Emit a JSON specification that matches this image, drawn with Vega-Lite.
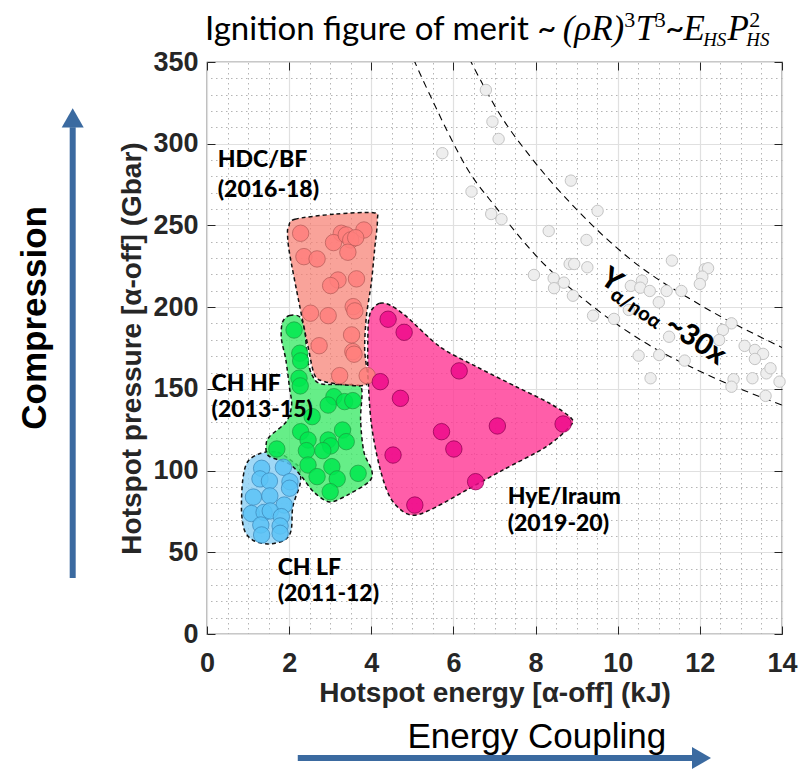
{
  "$schema": "https://vega.github.io/schema/vega-lite/v6.json",
  "width": 575,
  "height": 572,
  "autosize": {"type": "none"},
  "padding": {"left": 207, "top": 62, "right": 29, "bottom": 136},
  "background": "white",
  "config": {
    "view": {"stroke": "#262626", "strokeWidth": 1.2},
    "text": {"font": "Lato"}
  },
  "datasets": {
    "regions": [
      {"g": "LF", "i": 0, "E": 1.31, "P": 110.6}, {"g": "LF", "i": 1, "E": 1.72, "P": 111.2},
      {"g": "LF", "i": 2, "E": 2.09, "P": 105.4}, {"g": "LF", "i": 3, "E": 2.25, "P": 101.4},
      {"g": "LF", "i": 4, "E": 2.27, "P": 92.2}, {"g": "LF", "i": 5, "E": 2.09, "P": 77.9},
      {"g": "LF", "i": 6, "E": 2.05, "P": 63.6}, {"g": "LF", "i": 7, "E": 1.89, "P": 57.5},
      {"g": "LF", "i": 8, "E": 1.48, "P": 55.1}, {"g": "LF", "i": 9, "E": 1.11, "P": 57.5},
      {"g": "LF", "i": 10, "E": 0.91, "P": 63.6}, {"g": "LF", "i": 11, "E": 0.84, "P": 75.9},
      {"g": "LF", "i": 12, "E": 0.87, "P": 94.2}, {"g": "LF", "i": 13, "E": 0.99, "P": 105.4},

      {"g": "HF", "i": 0, "E": 1.84, "P": 190.9}, {"g": "HF", "i": 1, "E": 2.01, "P": 194.9},
      {"g": "HF", "i": 2, "E": 2.26, "P": 194.0}, {"g": "HF", "i": 3, "E": 2.38, "P": 186.0},
      {"g": "HF", "i": 4, "E": 2.45, "P": 167.7}, {"g": "HF", "i": 5, "E": 2.57, "P": 157.9},
      {"g": "HF", "i": 6, "E": 2.79, "P": 153.0}, {"g": "HF", "i": 7, "E": 3.6, "P": 152.4},
      {"g": "HF", "i": 8, "E": 3.77, "P": 149.3}, {"g": "HF", "i": 9, "E": 3.74, "P": 131.0},
      {"g": "HF", "i": 10, "E": 3.82, "P": 111.4}, {"g": "HF", "i": 11, "E": 4.01, "P": 100.4},
      {"g": "HF", "i": 12, "E": 3.96, "P": 93.6}, {"g": "HF", "i": 13, "E": 3.47, "P": 85.7},
      {"g": "HF", "i": 14, "E": 2.99, "P": 80.8}, {"g": "HF", "i": 15, "E": 2.6, "P": 86.9},
      {"g": "HF", "i": 16, "E": 2.31, "P": 96.1}, {"g": "HF", "i": 17, "E": 2.01, "P": 104.0},
      {"g": "HF", "i": 18, "E": 1.5, "P": 109.0}, {"g": "HF", "i": 19, "E": 1.44, "P": 116.0},
      {"g": "HF", "i": 20, "E": 1.53, "P": 121.0}, {"g": "HF", "i": 21, "E": 1.93, "P": 129.9},
      {"g": "HF", "i": 22, "E": 2.06, "P": 140.1}, {"g": "HF", "i": 23, "E": 2.01, "P": 150.4},
      {"g": "HF", "i": 24, "E": 1.92, "P": 167.7}, {"g": "HF", "i": 25, "E": 1.81, "P": 181.0},

      {"g": "BF", "i": 0, "E": 1.99, "P": 249.3}, {"g": "BF", "i": 1, "E": 2.14, "P": 253.8},
      {"g": "BF", "i": 2, "E": 3.11, "P": 256.9}, {"g": "BF", "i": 3, "E": 4.05, "P": 257.8},
      {"g": "BF", "i": 4, "E": 4.15, "P": 253.4}, {"g": "BF", "i": 5, "E": 4.08, "P": 235.0},
      {"g": "BF", "i": 6, "E": 4.0, "P": 214.6}, {"g": "BF", "i": 7, "E": 3.88, "P": 194.2},
      {"g": "BF", "i": 8, "E": 3.84, "P": 173.8}, {"g": "BF", "i": 9, "E": 3.92, "P": 155.4},
      {"g": "BF", "i": 10, "E": 3.8, "P": 152.0}, {"g": "BF", "i": 11, "E": 3.35, "P": 152.4},
      {"g": "BF", "i": 12, "E": 2.87, "P": 154.4}, {"g": "BF", "i": 13, "E": 2.62, "P": 158.5},
      {"g": "BF", "i": 14, "E": 2.46, "P": 175.8}, {"g": "BF", "i": 15, "E": 2.26, "P": 200.3},
      {"g": "BF", "i": 16, "E": 2.01, "P": 232.9}, {"g": "BF", "i": 17, "E": 1.96, "P": 245.2},

      {"g": "HyE", "i": 0, "E": 4.04, "P": 199.3}, {"g": "HyE", "i": 1, "E": 4.21, "P": 202.4},
      {"g": "HyE", "i": 2, "E": 4.45, "P": 201.3}, {"g": "HyE", "i": 3, "E": 4.86, "P": 194.2},
      {"g": "HyE", "i": 4, "E": 5.67, "P": 175.8}, {"g": "HyE", "i": 5, "E": 6.56, "P": 163.6},
      {"g": "HyE", "i": 6, "E": 7.53, "P": 151.3}, {"g": "HyE", "i": 7, "E": 8.34, "P": 141.2},
      {"g": "HyE", "i": 8, "E": 8.87, "P": 132.0}, {"g": "HyE", "i": 9, "E": 8.83, "P": 126.9},
      {"g": "HyE", "i": 10, "E": 8.26, "P": 114.6}, {"g": "HyE", "i": 11, "E": 7.21, "P": 100.4},
      {"g": "HyE", "i": 12, "E": 6.32, "P": 88.1}, {"g": "HyE", "i": 13, "E": 5.59, "P": 77.9},
      {"g": "HyE", "i": 14, "E": 5.1, "P": 72.8}, {"g": "HyE", "i": 15, "E": 4.78, "P": 74.8},
      {"g": "HyE", "i": 16, "E": 4.45, "P": 84.0}, {"g": "HyE", "i": 17, "E": 4.2, "P": 102.4},
      {"g": "HyE", "i": 18, "E": 4.0, "P": 128.9}, {"g": "HyE", "i": 19, "E": 3.92, "P": 159.5},
      {"g": "HyE", "i": 20, "E": 3.92, "P": 186.0}, {"g": "HyE", "i": 21, "E": 3.96, "P": 195.2}
    ],
    "curves": [
      {"c": "upper", "E": 6.0, "P": 372}, {"c": "upper", "E": 6.43, "P": 350},
      {"c": "upper", "E": 7.13, "P": 318}, {"c": "upper", "E": 7.94, "P": 290},
      {"c": "upper", "E": 9.01, "P": 259.5}, {"c": "upper", "E": 10.3, "P": 229.5},
      {"c": "upper", "E": 12.0, "P": 201.5}, {"c": "upper", "E": 14.0, "P": 175.3},
      {"c": "lower", "E": 4.7, "P": 372}, {"c": "lower", "E": 5.06, "P": 350},
      {"c": "lower", "E": 5.5, "P": 326}, {"c": "lower", "E": 5.92, "P": 304.2},
      {"c": "lower", "E": 6.33, "P": 285}, {"c": "lower", "E": 7.06, "P": 260.3},
      {"c": "lower", "E": 8.04, "P": 230.7}, {"c": "lower", "E": 9.4, "P": 200.3},
      {"c": "lower", "E": 10.62, "P": 179}, {"c": "lower", "E": 12.08, "P": 159.8},
      {"c": "lower", "E": 14.0, "P": 140.1}
    ],
    "gray": [
      {"E": 6.79, "P": 332.9}, {"E": 6.95, "P": 313.5}, {"E": 7.1, "P": 302.9}, {"E": 5.73, "P": 294.2},
      {"E": 8.86, "P": 277.4}, {"E": 6.44, "P": 270.7}, {"E": 6.92, "P": 257.0}, {"E": 7.17, "P": 253.8},
      {"E": 9.51, "P": 258.9}, {"E": 8.32, "P": 246.6}, {"E": 9.24, "P": 241.1}, {"E": 8.83, "P": 226.4},
      {"E": 8.94, "P": 226.4}, {"E": 9.26, "P": 224.4}, {"E": 11.32, "P": 228.5}, {"E": 7.96, "P": 219.7},
      {"E": 8.44, "P": 217.7}, {"E": 8.69, "P": 215.0}, {"E": 8.45, "P": 211.6}, {"E": 8.91, "P": 207.0},
      {"E": 10.32, "P": 213.0}, {"E": 10.59, "P": 216.2}, {"E": 10.55, "P": 211.9}, {"E": 10.78, "P": 209.9},
      {"E": 11.19, "P": 209.9}, {"E": 11.55, "P": 209.9}, {"E": 11.0, "P": 203.0}, {"E": 10.27, "P": 198.3},
      {"E": 9.4, "P": 194.8}, {"E": 9.91, "P": 192.8}, {"E": 12.12, "P": 223.2}, {"E": 12.2, "P": 223.8},
      {"E": 12.06, "P": 218.7}, {"E": 12.0, "P": 214.2}, {"E": 11.25, "P": 181.9}, {"E": 12.77, "P": 190.1},
      {"E": 12.56, "P": 186.0}, {"E": 12.47, "P": 179.9}, {"E": 10.51, "P": 170.3}, {"E": 11.01, "P": 170.7},
      {"E": 11.63, "P": 167.3}, {"E": 13.09, "P": 176.3}, {"E": 13.34, "P": 173.8}, {"E": 13.54, "P": 171.4},
      {"E": 13.34, "P": 168.3}, {"E": 13.62, "P": 159.5}, {"E": 13.72, "P": 162.6}, {"E": 13.94, "P": 154.4},
      {"E": 13.28, "P": 156.5}, {"E": 12.82, "P": 155.9}, {"E": 12.77, "P": 151.3}, {"E": 10.8, "P": 156.5},
      {"E": 13.6, "P": 145.7}
    ],
    "shots": [
      {"g": "LF", "E": 1.33, "P": 101.4}, {"g": "LF", "E": 1.86, "P": 102.0}, {"g": "LF", "E": 1.29, "P": 94.9},
      {"g": "LF", "E": 1.52, "P": 93.6}, {"g": "LF", "E": 2.02, "P": 93.2}, {"g": "LF", "E": 2.01, "P": 89.2},
      {"g": "LF", "E": 1.13, "P": 83.8}, {"g": "LF", "E": 1.53, "P": 84.5}, {"g": "LF", "E": 1.88, "P": 78.9},
      {"g": "LF", "E": 1.08, "P": 73.7}, {"g": "LF", "E": 1.39, "P": 74.4}, {"g": "LF", "E": 1.54, "P": 75.3},
      {"g": "LF", "E": 1.81, "P": 71.8}, {"g": "LF", "E": 1.31, "P": 66.7}, {"g": "LF", "E": 1.78, "P": 66.1},
      {"g": "LF", "E": 1.78, "P": 61.6}, {"g": "LF", "E": 1.33, "P": 60.6},

      {"g": "HF", "E": 2.12, "P": 186.0}, {"g": "HF", "E": 2.26, "P": 171.8}, {"g": "HF", "E": 2.28, "P": 167.1},
      {"g": "HF", "E": 2.24, "P": 156.5}, {"g": "HF", "E": 2.27, "P": 151.8}, {"g": "HF", "E": 3.09, "P": 145.2},
      {"g": "HF", "E": 3.35, "P": 142.2}, {"g": "HF", "E": 3.55, "P": 142.8}, {"g": "HF", "E": 2.95, "P": 140.1},
      {"g": "HF", "E": 2.56, "P": 133.0}, {"g": "HF", "E": 2.28, "P": 123.8}, {"g": "HF", "E": 2.46, "P": 118.7},
      {"g": "HF", "E": 3.3, "P": 124.8}, {"g": "HF", "E": 3.39, "P": 117.7}, {"g": "HF", "E": 2.95, "P": 118.7},
      {"g": "HF", "E": 3.01, "P": 115.1}, {"g": "HF", "E": 2.82, "P": 112.2}, {"g": "HF", "E": 2.42, "P": 112.2},
      {"g": "HF", "E": 1.7, "P": 113.2}, {"g": "HF", "E": 3.04, "P": 102.4}, {"g": "HF", "E": 2.46, "P": 103.4},
      {"g": "HF", "E": 2.68, "P": 96.3}, {"g": "HF", "E": 3.17, "P": 94.9}, {"g": "HF", "E": 3.68, "P": 98.3},
      {"g": "HF", "E": 3.0, "P": 87.1},

      {"g": "BF", "E": 2.28, "P": 245.2}, {"g": "BF", "E": 3.27, "P": 245.2}, {"g": "BF", "E": 3.82, "P": 247.2},
      {"g": "BF", "E": 3.08, "P": 239.5}, {"g": "BF", "E": 3.39, "P": 244.2}, {"g": "BF", "E": 3.5, "P": 241.1},
      {"g": "BF", "E": 3.62, "P": 242.5}, {"g": "BF", "E": 3.43, "P": 233.6}, {"g": "BF", "E": 2.36, "P": 230.9},
      {"g": "BF", "E": 2.68, "P": 229.5}, {"g": "BF", "E": 3.19, "P": 216.6}, {"g": "BF", "E": 3.01, "P": 213.2},
      {"g": "BF", "E": 3.64, "P": 217.3}, {"g": "BF", "E": 2.52, "P": 196.3}, {"g": "BF", "E": 2.95, "P": 194.8},
      {"g": "BF", "E": 3.56, "P": 200.3}, {"g": "BF", "E": 3.6, "P": 197.7}, {"g": "BF", "E": 2.73, "P": 176.4},
      {"g": "BF", "E": 3.52, "P": 183.0}, {"g": "BF", "E": 3.55, "P": 172.8}, {"g": "BF", "E": 3.58, "P": 171.2},
      {"g": "BF", "E": 3.23, "P": 158.1}, {"g": "BF", "E": 3.9, "P": 158.1},

      {"g": "HyE", "E": 4.41, "P": 192.6}, {"g": "HyE", "E": 4.8, "P": 184.6}, {"g": "HyE", "E": 6.14, "P": 161.0},
      {"g": "HyE", "E": 4.22, "P": 154.4}, {"g": "HyE", "E": 4.71, "P": 144.2}, {"g": "HyE", "E": 5.71, "P": 123.8},
      {"g": "HyE", "E": 7.07, "P": 127.3}, {"g": "HyE", "E": 8.67, "P": 128.5}, {"g": "HyE", "E": 6.01, "P": 113.2},
      {"g": "HyE", "E": 4.53, "P": 109.5}, {"g": "HyE", "E": 6.54, "P": 93.2}, {"g": "HyE", "E": 5.06, "P": 78.9}
    ],
    "groupLabels": [
      {"t": "HDC/BF", "E": 0.26, "P": 290.1}, {"t": "(2016-18)", "E": 0.26, "P": 271.7},
      {"t": "CH HF", "E": 0.11, "P": 153.0}, {"t": "(2013-15)", "E": 0.11, "P": 137.1},
      {"t": "CH LF", "E": 1.72, "P": 40.4}, {"t": "(2011-12)", "E": 1.72, "P": 24.5},
      {"t": "HyE/Iraum", "E": 7.32, "P": 83.8}, {"t": "(2019-20)", "E": 7.32, "P": 67.3}
    ],
    "yieldBig": [
      {"t": "Y", "E": 9.85, "P": 216.6}, {"t": "~30x", "E": 11.9, "P": 180.0}
    ],
    "yieldSub": [
      {"t": "α/noα", "E": 10.44, "P": 199.0}
    ],
    "titleSans": [
      {"t": "Ignition figure of merit ~", "E": -0.05, "P": 363.5},
      {"t": "~", "E": 11.16, "P": 363.5}
    ],
    "titleMath": [
      {"t": "(ρR)", "E": 8.66, "P": 363.5}, {"t": "T", "E": 10.44, "P": 363.5},
      {"t": "E", "E": 11.6, "P": 363.5}, {"t": "P", "E": 12.67, "P": 363.5}
    ],
    "titleSup": [
      {"t": "3", "E": 10.16, "P": 371.5}, {"t": "3", "E": 10.9, "P": 371.5}, {"t": "2", "E": 13.2, "P": 371.5}
    ],
    "titleSub": [
      {"t": "HS", "E": 12.08, "P": 359.5}, {"t": "HS", "E": 13.13, "P": 359.5}
    ],
    "sideBold": [
      {"t": "Compression", "E": -4.2, "P": 193.4}
    ],
    "sidePlain": [
      {"t": "Energy Coupling", "E": 8.03, "P": -63.0}
    ],
    "arrowShafts": [
      {"E": -3.27, "E2": -3.27, "P": 34.3, "P2": 310},
      {"E": 2.21, "E2": 11.95, "P": -75.9, "P2": -75.9}
    ],
    "arrowHeads": [
      {"s": "up", "E": -3.27, "P": 315.8},
      {"s": "right", "E": 12.04, "P": -75.9}
    ]
  },
  "resolve": {"axis": {"x": "independent", "y": "independent"}},
  "layer": [
    {
      "data": {"name": "regions"},
      "transform": [{"filter": "datum.g === 'LF'"}],
      "mark": {"type": "line", "interpolate": "cardinal-closed", "tension": 0.1, "fill": "#88cef4", "fillOpacity": 0.8, "stroke": "#111111", "strokeWidth": 1.5, "strokeDash": [4, 3]},
      "encoding": {
        "x": {"field": "E", "type": "quantitative", "scale": {"domain": [0, 14], "nice": false, "zero": false},
          "axis": {"orient": "top", "values": [0, 0.5, 1, 1.5, 2, 2.5, 3, 3.5, 4, 4.5, 5, 5.5, 6, 6.5, 7, 7.5, 8, 8.5, 9, 9.5, 10, 10.5, 11, 11.5, 12, 12.5, 13, 13.5, 14],
            "grid": true, "gridDash": [1.5, 3.5], "gridColor": "#b5b5b5", "gridWidth": 1, "labels": false, "ticks": false, "domain": false, "title": null}},
        "y": {"field": "P", "type": "quantitative", "scale": {"domain": [0, 350], "nice": false, "zero": false},
          "axis": {"orient": "right", "values": [0, 10, 20, 30, 40, 50, 60, 70, 80, 90, 100, 110, 120, 130, 140, 150, 160, 170, 180, 190, 200, 210, 220, 230, 240, 250, 260, 270, 280, 290, 300, 310, 320, 330, 340, 350],
            "grid": true, "gridDash": [1.5, 3.5], "gridColor": "#b5b5b5", "gridWidth": 1, "labels": false, "ticks": false, "domain": false, "title": null}},
        "order": {"field": "i", "type": "quantitative"}
      }
    },
    {
      "data": {"name": "regions"},
      "transform": [{"filter": "datum.g === 'HF'"}],
      "mark": {"type": "line", "interpolate": "cardinal-closed", "tension": 0.1, "fill": "#40ea6a", "fillOpacity": 0.8, "stroke": "#111111", "strokeWidth": 1.5, "strokeDash": [4, 3]},
      "encoding": {
        "x": {"field": "E", "type": "quantitative", "scale": {"domain": [0, 14], "nice": false, "zero": false},
          "axis": {"orient": "bottom", "values": [0, 2, 4, 6, 8, 10, 12, 14], "grid": true, "gridColor": "#e0e0e0", "gridWidth": 1.2,
            "domain": false, "ticks": true, "tickSize": -8, "tickColor": "#262626", "tickWidth": 1,
            "labelPadding": 24, "labelFont": "Liberation Sans", "labelFontWeight": "bold", "labelFontSize": 27, "labelColor": "#262626",
            "labelFlush": false, "labelOverlap": false, "labelBound": false,
            "title": "Hotspot energy [α-off] (kJ)", "titleFont": "Liberation Sans", "titleFontWeight": "bold", "titleFontSize": 28, "titleColor": "#262626",
            "titleX": 287.5, "titleY": 59, "titleAlign": "center", "titleBaseline": "middle"}},
        "y": {"field": "P", "type": "quantitative", "scale": {"domain": [0, 350], "nice": false, "zero": false},
          "axis": {"orient": "left", "values": [0, 50, 100, 150, 200, 250, 300, 350], "grid": true, "gridColor": "#e0e0e0", "gridWidth": 1.2,
            "domain": false, "ticks": true, "tickSize": -8, "tickColor": "#262626", "tickWidth": 1,
            "labelPadding": 17, "labelFont": "Liberation Sans", "labelFontWeight": "bold", "labelFontSize": 27, "labelColor": "#262626",
            "labelFlush": false, "labelOverlap": false, "labelBound": false,
            "title": "Hotspot pressure [α-off] (Gbar)", "titleFont": "Liberation Sans", "titleFontWeight": "bold", "titleFontSize": 28, "titleColor": "#262626",
            "titleX": -75, "titleY": 286, "titleAngle": -90, "titleAlign": "center", "titleBaseline": "middle"}},
        "order": {"field": "i", "type": "quantitative"}
      }
    },
    {
      "data": {"name": "regions"},
      "transform": [{"filter": "datum.g === 'BF'"}],
      "mark": {"type": "line", "interpolate": "cardinal-closed", "tension": 0.1, "fill": "#f67c6f", "fillOpacity": 0.7, "stroke": "#111111", "strokeWidth": 1.5, "strokeDash": [4, 3]},
      "encoding": {
        "x": {"field": "E", "type": "quantitative", "scale": {"domain": [0, 14], "nice": false, "zero": false},
          "axis": {"orient": "top", "values": [0, 2, 4, 6, 8, 10, 12, 14], "grid": false, "labels": false, "domain": false,
            "ticks": true, "tickSize": -8, "tickColor": "#262626", "tickWidth": 1, "title": null}},
        "y": {"field": "P", "type": "quantitative", "scale": {"domain": [0, 350], "nice": false, "zero": false},
          "axis": {"orient": "right", "values": [0, 50, 100, 150, 200, 250, 300, 350], "grid": false, "labels": false, "domain": false,
            "ticks": true, "tickSize": -8, "tickColor": "#262626", "tickWidth": 1, "title": null}},
        "order": {"field": "i", "type": "quantitative"}
      }
    },
    {
      "data": {"name": "regions"},
      "transform": [{"filter": "datum.g === 'HyE'"}],
      "mark": {"type": "line", "interpolate": "cardinal-closed", "tension": 0.1, "fill": "#ff3694", "fillOpacity": 0.8, "stroke": "#111111", "strokeWidth": 1.5, "strokeDash": [4, 3]},
      "encoding": {
        "x": {"field": "E", "type": "quantitative", "scale": {"domain": [0, 14], "nice": false, "zero": false}, "axis": null},
        "y": {"field": "P", "type": "quantitative", "scale": {"domain": [0, 350], "nice": false, "zero": false}, "axis": null},
        "order": {"field": "i", "type": "quantitative"}
      }
    },
    {
      "data": {"name": "curves"},
      "mark": {"type": "line", "interpolate": "monotone", "stroke": "#000000", "strokeWidth": 1.1, "strokeDash": [7, 5], "clip": true},
      "encoding": {
        "x": {"field": "E", "type": "quantitative", "scale": {"domain": [0, 14], "nice": false, "zero": false}, "axis": null},
        "y": {"field": "P", "type": "quantitative", "scale": {"domain": [0, 350], "nice": false, "zero": false}, "axis": null},
        "detail": {"field": "c"}
      }
    },
    {
      "data": {"name": "gray"},
      "mark": {"type": "point", "shape": "circle", "filled": true, "fill": "#eeeeee", "stroke": "#c4c4c4", "strokeWidth": 1, "size": 130, "opacity": 1},
      "encoding": {
        "x": {"field": "E", "type": "quantitative", "scale": {"domain": [0, 14], "nice": false, "zero": false}, "axis": null},
        "y": {"field": "P", "type": "quantitative", "scale": {"domain": [0, 350], "nice": false, "zero": false}, "axis": null}
      }
    },
    {
      "data": {"name": "shots"},
      "mark": {"type": "point", "shape": "circle", "filled": true, "size": 270, "strokeWidth": 0.8, "fillOpacity": 0.85, "strokeOpacity": 0.9},
      "encoding": {
        "x": {"field": "E", "type": "quantitative", "scale": {"domain": [0, 14], "nice": false, "zero": false}, "axis": null},
        "y": {"field": "P", "type": "quantitative", "scale": {"domain": [0, 350], "nice": false, "zero": false}, "axis": null},
        "fill": {"field": "g", "type": "nominal", "legend": null,
          "scale": {"domain": ["LF", "HF", "BF", "HyE"], "range": ["#5cc3f6", "#00e84f", "#ff7f7c", "#ee0b8b"]}},
        "stroke": {"field": "g", "type": "nominal", "legend": null,
          "scale": {"domain": ["LF", "HF", "BF", "HyE"], "range": ["#3a86b8", "#1c9a40", "#b45a58", "#8c0050"]}}
      }
    },
    {
      "data": {"name": "groupLabels"},
      "mark": {"type": "text", "font": "Lato", "fontWeight": 900, "fontSize": 23, "align": "left", "baseline": "middle", "color": "#000000"},
      "encoding": {
        "x": {"field": "E", "type": "quantitative", "scale": {"domain": [0, 14], "nice": false, "zero": false}, "axis": null},
        "y": {"field": "P", "type": "quantitative", "scale": {"domain": [0, 350], "nice": false, "zero": false}, "axis": null},
        "text": {"field": "t"}
      }
    },
    {
      "data": {"name": "yieldBig"},
      "mark": {"type": "text", "font": "Lato", "fontWeight": 900, "fontSize": 29, "align": "center", "baseline": "middle", "angle": 34, "color": "#000000"},
      "encoding": {
        "x": {"field": "E", "type": "quantitative", "scale": {"domain": [0, 14], "nice": false, "zero": false}, "axis": null},
        "y": {"field": "P", "type": "quantitative", "scale": {"domain": [0, 350], "nice": false, "zero": false}, "axis": null},
        "text": {"field": "t"}
      }
    },
    {
      "data": {"name": "yieldSub"},
      "mark": {"type": "text", "font": "Lato", "fontWeight": 900, "fontSize": 20, "align": "center", "baseline": "middle", "angle": 34, "color": "#000000"},
      "encoding": {
        "x": {"field": "E", "type": "quantitative", "scale": {"domain": [0, 14], "nice": false, "zero": false}, "axis": null},
        "y": {"field": "P", "type": "quantitative", "scale": {"domain": [0, 350], "nice": false, "zero": false}, "axis": null},
        "text": {"field": "t"}
      }
    },
    {
      "data": {"name": "titleSans"},
      "mark": {"type": "text", "font": "Lato", "fontSize": 33, "align": "left", "baseline": "alphabetic", "color": "#000000"},
      "encoding": {
        "x": {"field": "E", "type": "quantitative", "scale": {"domain": [0, 14], "nice": false, "zero": false}, "axis": null},
        "y": {"field": "P", "type": "quantitative", "scale": {"domain": [0, 350], "nice": false, "zero": false}, "axis": null},
        "text": {"field": "t"}
      }
    },
    {
      "data": {"name": "titleMath"},
      "mark": {"type": "text", "font": "Liberation Serif", "fontStyle": "italic", "fontSize": 35, "align": "left", "baseline": "alphabetic", "color": "#000000"},
      "encoding": {
        "x": {"field": "E", "type": "quantitative", "scale": {"domain": [0, 14], "nice": false, "zero": false}, "axis": null},
        "y": {"field": "P", "type": "quantitative", "scale": {"domain": [0, 350], "nice": false, "zero": false}, "axis": null},
        "text": {"field": "t"}
      }
    },
    {
      "data": {"name": "titleSup"},
      "mark": {"type": "text", "font": "Liberation Serif", "fontSize": 22, "align": "left", "baseline": "alphabetic", "color": "#000000"},
      "encoding": {
        "x": {"field": "E", "type": "quantitative", "scale": {"domain": [0, 14], "nice": false, "zero": false}, "axis": null},
        "y": {"field": "P", "type": "quantitative", "scale": {"domain": [0, 350], "nice": false, "zero": false}, "axis": null},
        "text": {"field": "t"}
      }
    },
    {
      "data": {"name": "titleSub"},
      "mark": {"type": "text", "font": "Liberation Serif", "fontStyle": "italic", "fontSize": 19, "align": "left", "baseline": "alphabetic", "color": "#000000"},
      "encoding": {
        "x": {"field": "E", "type": "quantitative", "scale": {"domain": [0, 14], "nice": false, "zero": false}, "axis": null},
        "y": {"field": "P", "type": "quantitative", "scale": {"domain": [0, 350], "nice": false, "zero": false}, "axis": null},
        "text": {"field": "t"}
      }
    },
    {
      "data": {"name": "sideBold"},
      "mark": {"type": "text", "font": "Liberation Sans", "fontWeight": "bold", "fontSize": 35, "angle": 270, "align": "center", "baseline": "middle", "color": "#000000"},
      "encoding": {
        "x": {"field": "E", "type": "quantitative", "scale": {"domain": [0, 14], "nice": false, "zero": false}, "axis": null},
        "y": {"field": "P", "type": "quantitative", "scale": {"domain": [0, 350], "nice": false, "zero": false}, "axis": null},
        "text": {"field": "t"}
      }
    },
    {
      "data": {"name": "sidePlain"},
      "mark": {"type": "text", "font": "Liberation Sans", "fontSize": 35, "align": "center", "baseline": "middle", "color": "#000000"},
      "encoding": {
        "x": {"field": "E", "type": "quantitative", "scale": {"domain": [0, 14], "nice": false, "zero": false}, "axis": null},
        "y": {"field": "P", "type": "quantitative", "scale": {"domain": [0, 350], "nice": false, "zero": false}, "axis": null},
        "text": {"field": "t"}
      }
    },
    {
      "data": {"name": "arrowShafts"},
      "mark": {"type": "rule", "color": "#3b6aa0", "strokeWidth": 6, "strokeCap": "butt"},
      "encoding": {
        "x": {"field": "E", "type": "quantitative", "scale": {"domain": [0, 14], "nice": false, "zero": false}, "axis": null},
        "x2": {"field": "E2"},
        "y": {"field": "P", "type": "quantitative", "scale": {"domain": [0, 350], "nice": false, "zero": false}, "axis": null},
        "y2": {"field": "P2"}
      }
    },
    {
      "data": {"name": "arrowHeads"},
      "mark": {"type": "point", "filled": true, "color": "#3b6aa0", "size": 484, "opacity": 1},
      "encoding": {
        "x": {"field": "E", "type": "quantitative", "scale": {"domain": [0, 14], "nice": false, "zero": false}, "axis": null},
        "y": {"field": "P", "type": "quantitative", "scale": {"domain": [0, 350], "nice": false, "zero": false}, "axis": null},
        "shape": {"field": "s", "type": "nominal", "legend": null,
          "scale": {"domain": ["up", "right"], "range": ["triangle-up", "triangle-right"]}}
      }
    }
  ]
}
